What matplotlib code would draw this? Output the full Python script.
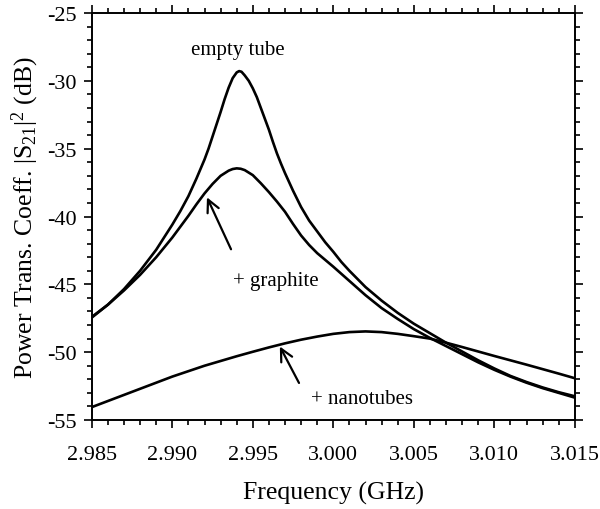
import matplotlib
matplotlib.use("Agg")
import matplotlib.pyplot as plt

# values
freq_empty = [2.985, 2.986, 2.987, 2.988, 2.989, 2.990, 2.9905, 2.991, 2.9915, 2.99175,
              2.992, 2.99225, 2.9925, 2.99275, 2.993, 2.99325, 2.9935, 2.99375, 2.994,
              2.99415, 2.9943, 2.9945, 2.99475, 2.995, 2.99525, 2.9955, 2.99575, 2.996,
              2.99625, 2.9965, 2.99675, 2.997, 2.99725, 2.9975, 2.998, 2.9985, 2.999,
              2.9995, 3.000, 3.0005, 3.001, 3.002, 3.003, 3.004, 3.005, 3.006, 3.007,
              3.008, 3.009, 3.010, 3.011, 3.012, 3.013, 3.014, 3.015]
db_empty = [-47.4, -46.5, -45.35, -44.0, -42.45, -40.6, -39.6, -38.5, -37.2, -36.5,
            -35.8, -35.0, -34.1, -33.2, -32.3, -31.35, -30.5, -29.8, -29.38,
            -29.28, -29.33, -29.6, -30.0, -30.55, -31.2, -32.0, -32.8, -33.6,
            -34.5, -35.35, -36.1, -36.8, -37.45, -38.1, -39.3, -40.3, -41.1,
            -41.9, -42.6, -43.35, -44.0, -45.2, -46.2, -47.1, -47.9, -48.6, -49.3,
            -49.95, -50.6, -51.2, -51.75, -52.2, -52.6, -52.95, -53.25]

freq_graphite = [2.985, 2.986, 2.987, 2.988, 2.989, 2.990, 2.9905, 2.991, 2.9915, 2.992,
                 2.9925, 2.993, 2.9935, 2.99375, 2.994, 2.99425, 2.9945, 2.995, 2.9955,
                 2.996, 2.9965, 2.997, 2.9975, 2.998, 2.9985, 2.999, 2.9995, 3.000,
                 3.001, 3.002, 3.003, 3.004, 3.005, 3.006, 3.007, 3.008, 3.009,
                 3.010, 3.011, 3.012, 3.013, 3.014, 3.015]
db_graphite = [-47.45, -46.5, -45.45, -44.3, -43.0, -41.55, -40.75, -39.95, -39.1, -38.3,
               -37.6, -37.0, -36.62, -36.5, -36.45, -36.48, -36.58, -36.95, -37.55,
               -38.2, -38.9, -39.65, -40.55, -41.4, -42.1, -42.7, -43.2, -43.7,
               -44.75, -45.8, -46.75, -47.55, -48.3, -48.95, -49.55, -50.15, -50.75,
               -51.3, -51.8, -52.25, -52.65, -53.0, -53.35]

freq_nano = [2.985, 2.986, 2.987, 2.988, 2.989, 2.990, 2.991, 2.992, 2.993, 2.994,
             2.995, 2.996, 2.997, 2.998, 2.999, 3.000, 3.001, 3.002, 3.003, 3.004,
             3.005, 3.006, 3.007, 3.008, 3.009, 3.010, 3.011, 3.012, 3.013, 3.014, 3.015]
db_nano = [-54.05, -53.6, -53.15, -52.7, -52.25, -51.8, -51.4, -51.0, -50.65, -50.3,
           -49.97, -49.65, -49.35, -49.08, -48.85, -48.65, -48.52, -48.47, -48.52, -48.65,
           -48.82, -49.0, -49.3, -49.62, -49.95, -50.28, -50.6, -50.92, -51.25, -51.58, -51.92]

xtick_labels = ['2.985', '2.990', '2.995', '3.000', '3.005', '3.010', '3.015']

plt.rcParams['font.family'] = ['Liberation Serif', 'DejaVu Serif']
plt.rcParams['mathtext.fontset'] = 'custom'
plt.rcParams['mathtext.rm'] = 'Liberation Serif'
plt.rcParams['mathtext.it'] = 'Liberation Serif:italic'
plt.rcParams['axes.unicode_minus'] = False

fig = plt.figure(figsize=(6.0, 5.1), dpi=100)
ax = fig.add_axes([0.153, 0.1745, 0.805, 0.798])

for f, d in [(freq_empty, db_empty), (freq_graphite, db_graphite), (freq_nano, db_nano)]:
    ax.plot(f, d, color='black', lw=1.9, solid_joinstyle='round')

ax.set_xlim(2.985, 3.015)
ax.set_ylim(-55, -25)
ax.set_xticks([float(s) for s in xtick_labels])
ax.set_xticklabels(xtick_labels)
ax.set_xticks([2.985 + 0.001 * i for i in range(31)], minor=True)
ax.set_yticks(range(-55, -24, 5))
ax.set_yticks(range(-55, -24), minor=True)

ax.tick_params(which='both', direction='out', top=True, right=True,
               labelsize=16, width=1.2)
ax.tick_params(which='major', length=6)
ax.tick_params(which='minor', length=3.5)
ax.tick_params(axis='x', which='major', pad=12)
ax.tick_params(axis='y', which='major', pad=5)
for s in ax.spines.values():
    s.set_linewidth(1.4)

ax.set_xlabel('Frequency (GHz)', fontsize=18.5, labelpad=12)
ax.set_ylabel(r'Power Trans. Coeff. $|\mathrm{S}_{21}|^2$ (dB)', fontsize=18.5, labelpad=4)

ax.text(2.9941, -27.7, 'empty tube', fontsize=15, ha='center', va='center')
ax.text(2.9938, -44.7, '+ graphite', fontsize=15, ha='left', va='center')
ax.text(2.9986, -53.4, '+ nanotubes', fontsize=15, ha='left', va='center')

ax.annotate('', xy=(2.99208, -38.4), xytext=(2.99372, -42.6),
            arrowprops=dict(arrowstyle='->', color='black', lw=1.6, mutation_scale=22))
ax.annotate('', xy=(2.99660, -49.4), xytext=(2.99795, -52.45),
            arrowprops=dict(arrowstyle='->', color='black', lw=1.6, mutation_scale=22))

fig.savefig('out.png', dpi=100)
